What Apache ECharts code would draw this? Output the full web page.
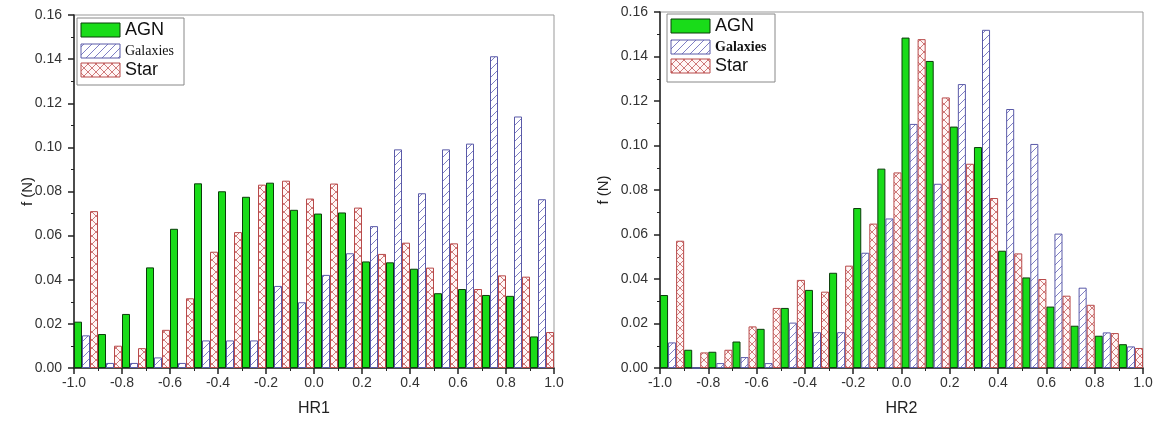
<!DOCTYPE html>
<html><head><meta charset="utf-8">
<script src="https://cdn.jsdelivr.net/npm/echarts@6/dist/echarts.min.js"></script>
<style>html,body{margin:0;padding:0;background:#fff}#c{width:1161px;height:428px}</style>
</head><body><div id="c"></div>
<script>
// ---- data ----
const binCenters = ['-0.95','-0.85','-0.75','-0.65','-0.55','-0.45','-0.35','-0.25','-0.15','-0.05','0.05','0.15','0.25','0.35','0.45','0.55','0.65','0.75','0.85','0.95'];
const xTickLabels = ['-1.0','-0.8','-0.6','-0.4','-0.2','0.0','0.2','0.4','0.6','0.8','1.0'];
const yTickLabels = ['0.00','0.02','0.04','0.06','0.08','0.10','0.12','0.14','0.16'];
const seriesNames = ['AGN','Galaxies','Star'];
const axisNames = ['HR1','HR2'];
const yName = 'f (N)';

const agnHR1  = [0.021,0.0154,0.0245,0.0456,0.0631,0.0837,0.0801,0.0776,0.084,0.0717,0.070,0.0705,0.0483,0.0479,0.045,0.0339,0.0358,0.0331,0.0327,0.0143];
const galHR1  = [0.0148,0.0023,0.0023,0.0048,0.0023,0.0125,0.0125,0.0125,0.0372,0.0298,0.0422,0.052,0.0643,0.0991,0.0792,0.0991,0.1017,0.1413,0.114,0.0765];
const starHR1 = [0.0711,0.0101,0.009,0.0173,0.0316,0.0527,0.0616,0.0831,0.0849,0.0768,0.0836,0.0727,0.0517,0.0568,0.0455,0.0565,0.0358,0.042,0.0414,0.0163];

const agnHR2  = [0.0328,0.0082,0.0073,0.0119,0.0176,0.027,0.0351,0.0428,0.0719,0.0896,0.1485,0.138,0.1085,0.0993,0.0527,0.0407,0.0276,0.019,0.0145,0.0107];
const galHR2  = [0.0115,0,0.0022,0.0049,0.0022,0.0204,0.0161,0.0161,0.0518,0.0672,0.1097,0.0828,0.1276,0.152,0.1164,0.1007,0.0604,0.0361,0.016,0.0097];
const starHR2 = [0.0572,0.007,0.0082,0.0187,0.027,0.0396,0.0343,0.046,0.0649,0.0879,0.1478,0.1216,0.0918,0.0764,0.0515,0.04,0.0325,0.0284,0.0157,0.009];

// ---- patterns ----
function makePattern(kind){
  const s = 8, cv = document.createElement('canvas');
  cv.width = s; cv.height = s;
  const g = cv.getContext('2d');
  g.fillStyle = kind === 'gal' ? '#ffffff' : '#fff6f6';
  g.fillRect(0,0,s,s);
  g.lineWidth = 1;
  g.strokeStyle = kind === 'gal' ? '#7f7fc4' : '#cf7a7a';
  g.beginPath();
  g.moveTo(-1, s+1); g.lineTo(s+1, -1);
  if (kind === 'star'){ g.moveTo(-1,-1); g.lineTo(s+1,s+1); }
  g.stroke();
  return {image: cv, repeat: 'repeat'};
}
const galPat = makePattern('gal');
const starPat = makePattern('star');

const styles = [
  {color:'#19dc19', borderColor:'#0b3d0b', borderWidth:1},
  {color:galPat, borderColor:'#5a5aa8', borderWidth:1},
  {color:starPat, borderColor:'#b84a4a', borderWidth:1}
];

const font = 'Liberation Sans, Arial, sans-serif';
const grids = [
  {left:74, right:607, top:15, bottom:60, show:true, borderColor:'#999', borderWidth:1},
  {left:660, right:18, top:12, bottom:60, show:true, borderColor:'#999', borderWidth:1}
];

const xAxes = [], yAxes = [], series = [];
[0,1].forEach(gi => {
  xAxes.push({type:'category', gridIndex:gi, data:binCenters, show:false});
  xAxes.push({type:'value', gridIndex:gi, min:-1, max:1, interval:0.2, position:'bottom',
    name:axisNames[gi], nameLocation:'middle', nameGap:33, nameMoveOverlap:false,
    nameTextStyle:{fontFamily:font, fontSize:16, color:'#222'},
    axisLine:{onZero:false, lineStyle:{color:'#222', width:1.5}},
    axisTick:{show:true, inside:false, length:6, lineStyle:{color:'#222', width:1.5}},
    minorTick:{show:true, splitNumber:2, length:3, lineStyle:{color:'#222', width:1}},
    splitLine:{show:false},
    axisLabel:{fontFamily:font, fontSize:14, color:'#333', margin:8,
      formatter: v => xTickLabels[Math.round((v+1)/0.2)]}
  });
  yAxes.push({type:'value', gridIndex:gi, min:0, max:0.16, interval:0.02,
    name:yName, nameLocation:'middle', nameGap:gi===0?39:49, nameRotate:90, nameMoveOverlap:false,
    nameTextStyle:{fontFamily:font, fontSize:15, color:'#222'},
    axisLine:{show:true, onZero:false, lineStyle:{color:'#222', width:1.5}},
    axisTick:{show:true, inside:false, length:6, lineStyle:{color:'#222', width:1.5}},
    minorTick:{show:true, splitNumber:2, length:3, lineStyle:{color:'#222', width:1}},
    splitLine:{show:false},
    axisLabel:{fontFamily:font, fontSize:14, color:'#333', margin:12,
      formatter: v => yTickLabels[Math.round(v/0.02)]}
  });
});
const dataSets = [[agnHR1, galHR1, starHR1],[agnHR2, galHR2, starHR2]];
[0,1].forEach(gi => {
  dataSets[gi].forEach((d, si) => {
    series.push({type:'bar', name:seriesNames[si], xAxisIndex:gi*2, yAxisIndex:gi,
      data:d, barGap:'0%', barCategoryGap:'0%', itemStyle:styles[si], silent:true, animation:false});
  });
});

// legends as graphics
function legend(x, y, w, h, bold){
  const sw = 39, sh = 14;
  const rows = [y+5, y+26, y+45];
  const els = [{type:'rect', shape:{x:x, y:y, width:w, height:h}, style:{fill:'#fff', stroke:'#888', lineWidth:1}}];
  const fills = ['#19dc19', galPat, starPat];
  const strokes = ['#0b3d0b', '#5a5aa8', '#b84a4a'];
  rows.forEach((ry, i) => {
    els.push({type:'rect', shape:{x:x+4, y:ry, width:sw, height:sh}, style:{fill:fills[i], stroke:strokes[i], lineWidth:1}});
    const isGal = i === 1;
    els.push({type:'text', x:x+48, y:ry+sh/2, style:{text:seriesNames[i],
      font: isGal ? ((bold?'bold ':'') + '14px "Liberation Serif", "Times New Roman", serif') : '18px ' + font,
      fill:'#111', verticalAlign:'middle', align:'left'}});
  });
  return {type:'group', children:els};
}

const chart = echarts.init(document.getElementById('c'), null, {renderer:'canvas'});
chart.setOption({
  animation:false,
  backgroundColor:'#fff',
  grid:grids, xAxis:xAxes, yAxis:yAxes, series:series,
  graphic:[legend(77, 18, 107, 67, false), legend(667, 14, 108, 68, true)]
});
</script></body></html>
